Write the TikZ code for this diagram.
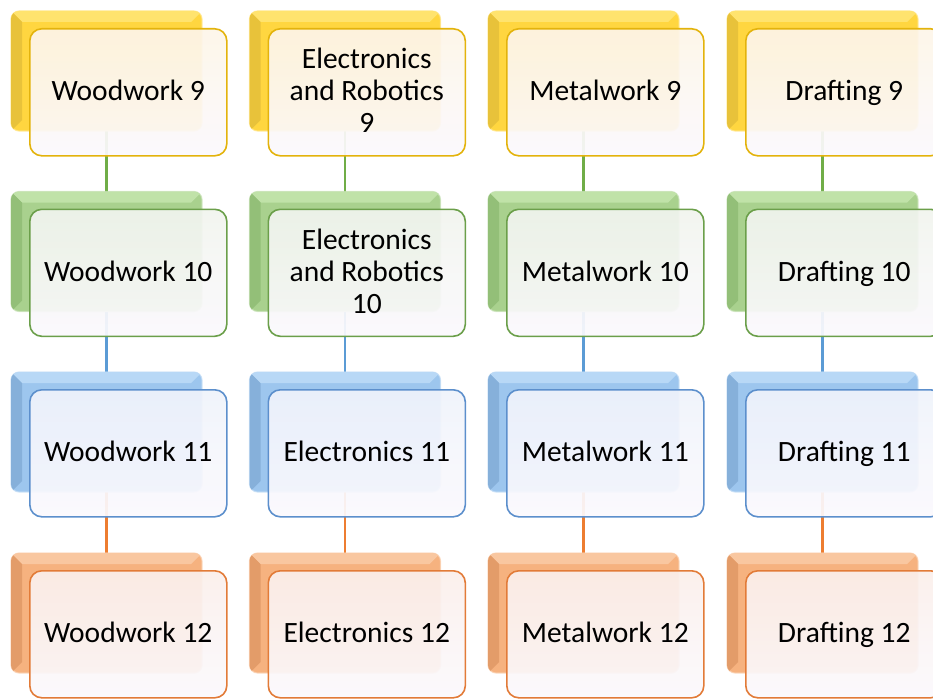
\documentclass[tikz,border=0pt]{standalone}
\usepackage{fontspec}
\setmainfont{Carlito}

% palettes: back fill, bevel top, bevel left, front border, front tint, link colour
\definecolor{Yback}{HTML}{FFD640}
\definecolor{Ytop}{HTML}{FFE36E}
\definecolor{Yleft}{HTML}{E8C23A}
\definecolor{Yline}{HTML}{E3B30C}
\definecolor{Ytint}{HTML}{FDF5E8}
\definecolor{Gback}{HTML}{A9D18E}
\definecolor{Gtop}{HTML}{C0E2A8}
\definecolor{Gleft}{HTML}{93BF78}
\definecolor{Gline}{HTML}{6B9F4A}
\definecolor{Gtint}{HTML}{F1F4EE}
\definecolor{Glink}{HTML}{70AD47}
\definecolor{Bback}{HTML}{9DC6EE}
\definecolor{Btop}{HTML}{B8D8F6}
\definecolor{Bleft}{HTML}{86B0DA}
\definecolor{Bline}{HTML}{5C8FCC}
\definecolor{Btint}{HTML}{EFF3FB}
\definecolor{Blink}{HTML}{5B9BD5}
\definecolor{Oback}{HTML}{F6B27F}
\definecolor{Otop}{HTML}{F9C7A0}
\definecolor{Oleft}{HTML}{E39C69}
\definecolor{Oline}{HTML}{E27B38}
\definecolor{Otint}{HTML}{FBEFEB}
\definecolor{Olink}{HTML}{ED7D31}
\definecolor{frontlow}{HTML}{FBF9FD}

\pgfdeclarelayer{bg}
\pgfsetlayers{bg,main}

% invisible strut that keeps every line's baseline in the same place,
% plus the font's own word spacing instead of the ragged-text default
\newcommand\cardstrut{\rule[-9pt]{0pt}{35pt}}
\newcommand\cardstart{\spaceskip=6.7pt\relax\cardstrut}

\tikzset{
  backbox/.style={rounded corners=8pt, minimum width=191pt, minimum height=120pt,
    inner sep=0pt, outer sep=0pt, anchor=north west, line width=1.2pt},
  frontbox/.style={rounded corners=12pt, line width=1.6pt, minimum width=197pt,
    minimum height=127pt, text width=185pt, align=center, anchor=north west,
    inner sep=0pt, fill opacity=0.93, text opacity=1,
    execute at begin node=\cardstart, execute at end node=\cardstrut,
    font=\fontsize{29.5}{32}\selectfont},
  link/.style={line width=2.2pt}
}

% one course: a bevelled back tile with a lighter card on top of it
% #1 row, #2 column, #3 palette, #4 x, #5 y (top left of the back tile), #6 text
\newcommand\coursecard[6]{%
  \node[backbox, fill=#3back, draw=#3back!60!white, draw opacity=0.7] (b#1#2) at (#4,#5) {};
  \begin{scope}
    \clip[rounded corners=8pt] (b#1#2.north west) rectangle (b#1#2.south east);
    \fill[#3top] (b#1#2.north west) -- (b#1#2.north east)
      -- ([shift={(-11,11)}]b#1#2.north east) -- ([shift={(11,11)}]b#1#2.north west) -- cycle;
    \fill[#3left] (b#1#2.north west) -- ([shift={(11,11)}]b#1#2.north west)
      -- ([shift={(11,-11)}]b#1#2.south west) -- (b#1#2.south west) -- cycle;
  \end{scope}
  \node[frontbox, draw=#3line, top color=#3tint, bottom color=frontlow] (f#1#2) at ({#4+18},{#5+17}) {#6};
}

\begin{document}
\begin{tikzpicture}[x=1pt,y=-1pt]
  \useasboundingbox (0,0) rectangle (933,698);
  \clip (0,0) rectangle (933,698);

  % grade 9
  \coursecard{1}{1}{Y}{11}{11}{Woodwork 9}
  \coursecard{1}{2}{Y}{249.5}{11}{Electronics\\and Robotics\\9}
  \coursecard{1}{3}{Y}{488}{11}{Metalwork 9}
  \coursecard{1}{4}{Y}{727}{11}{Drafting 9}
  % grade 10
  \coursecard{2}{1}{G}{11}{191.5}{Woodwork 10}
  \coursecard{2}{2}{G}{249.5}{191.5}{Electronics\\and Robotics\\10}
  \coursecard{2}{3}{G}{488}{191.5}{Metalwork 10}
  \coursecard{2}{4}{G}{727}{191.5}{Drafting 10}
  % grade 11
  \coursecard{3}{1}{B}{11}{372}{Woodwork 11}
  \coursecard{3}{2}{B}{249.5}{372}{Electronics 11}
  \coursecard{3}{3}{B}{488}{372}{Metalwork 11}
  \coursecard{3}{4}{B}{727}{372}{Drafting 11}
  % grade 12
  \coursecard{4}{1}{O}{11}{553}{Woodwork 12}
  \coursecard{4}{2}{O}{249.5}{553}{Electronics 12}
  \coursecard{4}{3}{O}{488}{553}{Metalwork 12}
  \coursecard{4}{4}{O}{727}{553}{Drafting 12}

  % progression links, drawn beneath the cards
  \begin{pgfonlayer}{bg}
    \foreach \c in {1,2,3,4}{
      \draw[link, Glink] (b1\c.south) -- (b2\c.north);
      \draw[link, Blink] (b2\c.south) -- (b3\c.north);
      \draw[link, Olink] (b3\c.south) -- (b4\c.north);
    }
  \end{pgfonlayer}
\end{tikzpicture}
\end{document}
